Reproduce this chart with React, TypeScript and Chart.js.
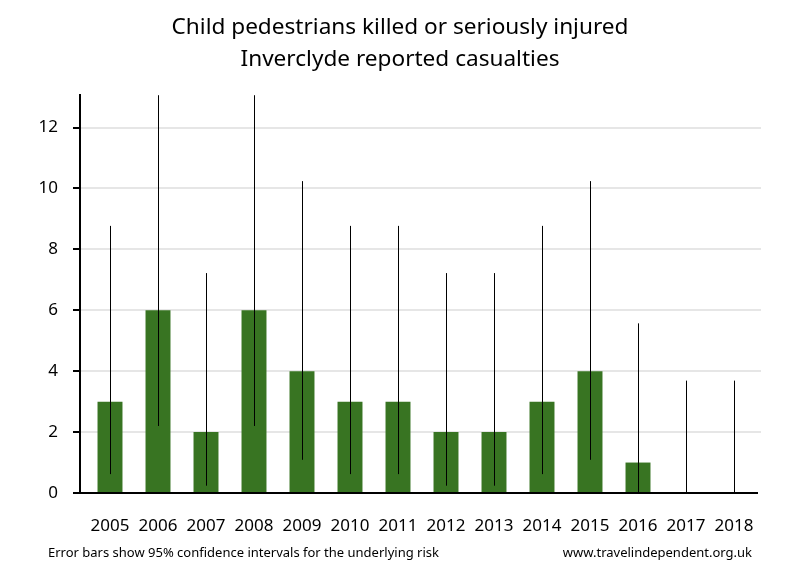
import React, { useEffect, useRef } from "react";
import { Chart, registerables } from "chart.js";

Chart.register(...registerables);

const years = ["2005", "2006", "2007", "2008", "2009", "2010", "2011", "2012", "2013", "2014", "2015", "2016", "2017", "2018"];
const casualties = [3, 6, 2, 6, 4, 3, 3, 2, 2, 3, 4, 1, 0, 0];
const ciLower = [0.62, 2.2, 0.24, 2.2, 1.09, 0.62, 0.62, 0.24, 0.24, 0.62, 1.09, 0.03, 0, 0];
const ciUpper = [8.77, 13.06, 7.22, 13.06, 10.24, 8.77, 8.77, 7.22, 7.22, 8.77, 10.24, 5.57, 3.69, 3.69];
const yTicks = [0, 2, 4, 6, 8, 10, 12];
const titleLines = ["Child pedestrians killed or seriously injured", "Inverclyde reported casualties"];
const footLeft = "Error bars show 95% confidence intervals for the underlying risk";
const footRight = "www.travelindependent.org.uk";

const FONT = "'Noto Sans', 'Open Sans', sans-serif";

const decorPlugin = {
  id: "decor",
  beforeDatasetsDraw(chart: any) {
    const ctx = chart.ctx;
    const y = chart.scales.y;
    const area = chart.chartArea;
    const axisX = area.left - 6;
    ctx.save();
    ctx.strokeStyle = "#e6e6e6";
    ctx.lineWidth = 2;
    yTicks.forEach((v) => {
      if (v === 0) return;
      const py = Math.round(y.getPixelForValue(v));
      ctx.beginPath();
      ctx.moveTo(axisX, py);
      ctx.lineTo(area.right + 3, py);
      ctx.stroke();
    });
    ctx.restore();
  },
  afterDatasetsDraw(chart: any) {
    const ctx = chart.ctx;
    const x = chart.scales.x;
    const y = chart.scales.y;
    const area = chart.chartArea;
    const axisX = area.left - 6;
    ctx.save();
    // error bars
    ctx.strokeStyle = "#000";
    ctx.lineWidth = 1;
    years.forEach((_, i) => {
      const px = Math.round(x.getPixelForValue(i)) + 0.5;
      ctx.beginPath();
      ctx.moveTo(px, y.getPixelForValue(ciLower[i]));
      ctx.lineTo(px, y.getPixelForValue(ciUpper[i]));
      ctx.stroke();
    });
    // axes
    ctx.lineWidth = 2;
    const bottom = Math.round(y.getPixelForValue(0));
    ctx.beginPath();
    ctx.moveTo(axisX, area.top);
    ctx.lineTo(axisX, bottom + 1);
    ctx.moveTo(axisX - 1, bottom);
    ctx.lineTo(area.right, bottom);
    ctx.stroke();
    yTicks.forEach((v) => {
      const py = Math.round(y.getPixelForValue(v));
      ctx.beginPath();
      ctx.moveTo(axisX - 7, py);
      ctx.lineTo(axisX, py);
      ctx.stroke();
    });
    // title
    ctx.fillStyle = "#000";
    ctx.textAlign = "center";
    ctx.textBaseline = "middle";
    ctx.font = `22.6px ${FONT}`;
    ctx.fillText(titleLines[0], 400, 28);
    ctx.fillText(titleLines[1], 400, 60);
    // footnotes
    ctx.font = `13px ${FONT}`;
    ctx.textAlign = "left";
    ctx.fillText(footLeft, 48, 553);
    ctx.textAlign = "right";
    ctx.fillText(footRight, 752, 553);
    ctx.restore();
  },
};

export default function App() {
  const ref = useRef<HTMLCanvasElement | null>(null);
  useEffect(() => {
    if (!ref.current) return;
    const chart = new Chart(ref.current, {
      type: "bar",
      data: {
        labels: years,
        datasets: [
          {
            data: casualties,
            backgroundColor: "#387422",
            borderWidth: 0,
            barPercentage: 0.52,
            categoryPercentage: 1,
          },
        ],
      },
      options: {
        animation: false,
        responsive: false,
        maintainAspectRatio: false,
        layout: { padding: { top: 94, left: 0, right: 42, bottom: 0 } },
        plugins: { legend: { display: false }, title: { display: false }, tooltip: { enabled: false } },
        scales: {
          x: {
            grid: { display: false },
            border: { display: false },
            ticks: { color: "#000", font: { family: FONT, size: 17 }, padding: 15, maxRotation: 0, autoSkip: false },
            afterFit(scale: any) {
              scale.height = 87;
            },
          },
          y: {
            min: 0,
            max: 13.1,
            grid: { display: false },
            border: { display: false },
            ticks: { stepSize: 2, color: "#000", font: { family: FONT, size: 17 }, padding: 20 },
            afterBuildTicks(scale: any) {
              scale.ticks = yTicks.map((v) => ({ value: v }));
            },
            afterFit(scale: any) {
              scale.width = 86;
            },
          },
        },
      },
      plugins: [decorPlugin],
    });
    return () => chart.destroy();
  }, []);
  return (
    <div style={{ position: "absolute", left: 0, top: 0, width: 800, height: 580, background: "#fff" }}>
      <canvas ref={ref} width={800} height={580} style={{ width: 800, height: 580 }} />
    </div>
  );
}
